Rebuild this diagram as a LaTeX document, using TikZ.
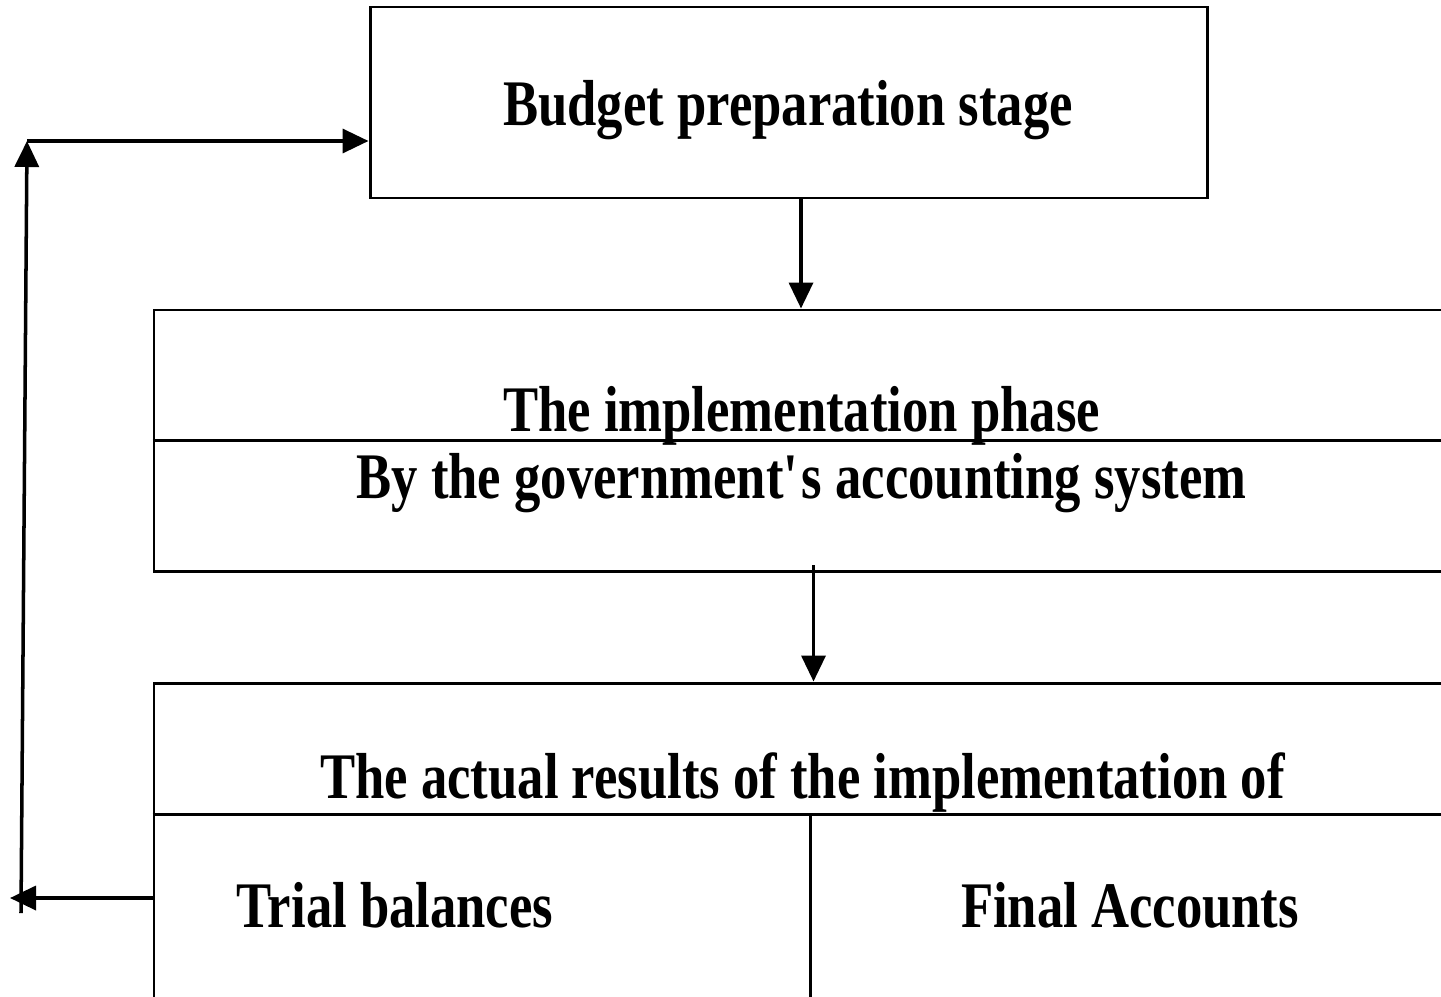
\documentclass[tikz,border=0pt]{standalone}
\usepackage{fontspec}
\setmainfont[FakeStretch=0.81]{Liberation Serif}
\usepackage{tikz}
\usetikzlibrary{arrows.meta,positioning}
\tikzset{%
  stagebox/.style={%
    draw=black,
    line width=1.7pt,
    fill=none,
    inner sep=0pt
  },
  stagelabel/.style={%
    anchor=base,
    inner sep=0pt,
    font=\fontsize{37}{42}\selectfont\bfseries
  },
  stagearrow/.style={-{Triangle[length=5.2mm,width=4.8mm]},line width=2pt,draw=black},
  stageline/.style={line width=1.7pt,draw=black}
}
\begin{document}
\begin{tikzpicture}
    \useasboundingbox (0,0) rectangle (28.82,-19.92);
    \clip (0,0) rectangle (28.82,-19.92);

    % the three stages
    \node[stagebox,minimum width=16.74cm,minimum height=3.82cm] (budget) at (15.77,-2.05) {};
    \node[stagebox,minimum width=25.9cm,minimum height=5.22cm] (implement) at (16.03,-8.81) {};
    \node[stagebox,minimum width=25.9cm,minimum height=6.54cm] (results) at (16.03,-16.93) {};
    \coordinate (resultsmid) at (16.2,-16.28);

    \draw[stageline] (implement.west) -- (implement.east);
    \draw[stageline] (results.west |- resultsmid) -- (results.east |- resultsmid);
    \draw[stageline] (resultsmid) -- (resultsmid |- results.south);

    \node[stagelabel] (budgettext) at (15.76,-2.5) {Budget preparation stage};
    \node[stagelabel] (phasetext) at (16.03,-8.62) {The implementation phase};
    \node[stagelabel] (systemtext) at (16.03,-9.96) {By the government\textquotesingle s accounting system};
    \node[stagelabel] (actualtext) at (16.05,-15.96) {The actual results of the implementation of};
    \node[stagelabel] (trialtext) at (7.9,-18.54) {Trial balances};
    \node[stagelabel] (finaltext) at (22.6,-18.54) {Final Accounts};

    % flow between the stages
    \coordinate (downone) at (16.02,-3.96);
    \coordinate (downtwo) at (16.27,-11.3);
    \draw[stagearrow] (budget.south -| downone) -- (implement.north -| downone);
    \draw[stagearrow] (downtwo) -- (results.north -| downtwo);

    % feedback loop
    \coordinate (backtip) at (0.2,-17.96);
    \coordinate (risebot) at (0.42,-18.26);
    \coordinate (risetop) at (0.54,-2.82);
    \draw[stagearrow] (results.west |- backtip) -- (backtip);
    \draw[stagearrow] (risebot) -- (risetop);
    \draw[stagearrow] (risetop) -- (budget.west |- risetop);
  \end{tikzpicture}
\end{document}
